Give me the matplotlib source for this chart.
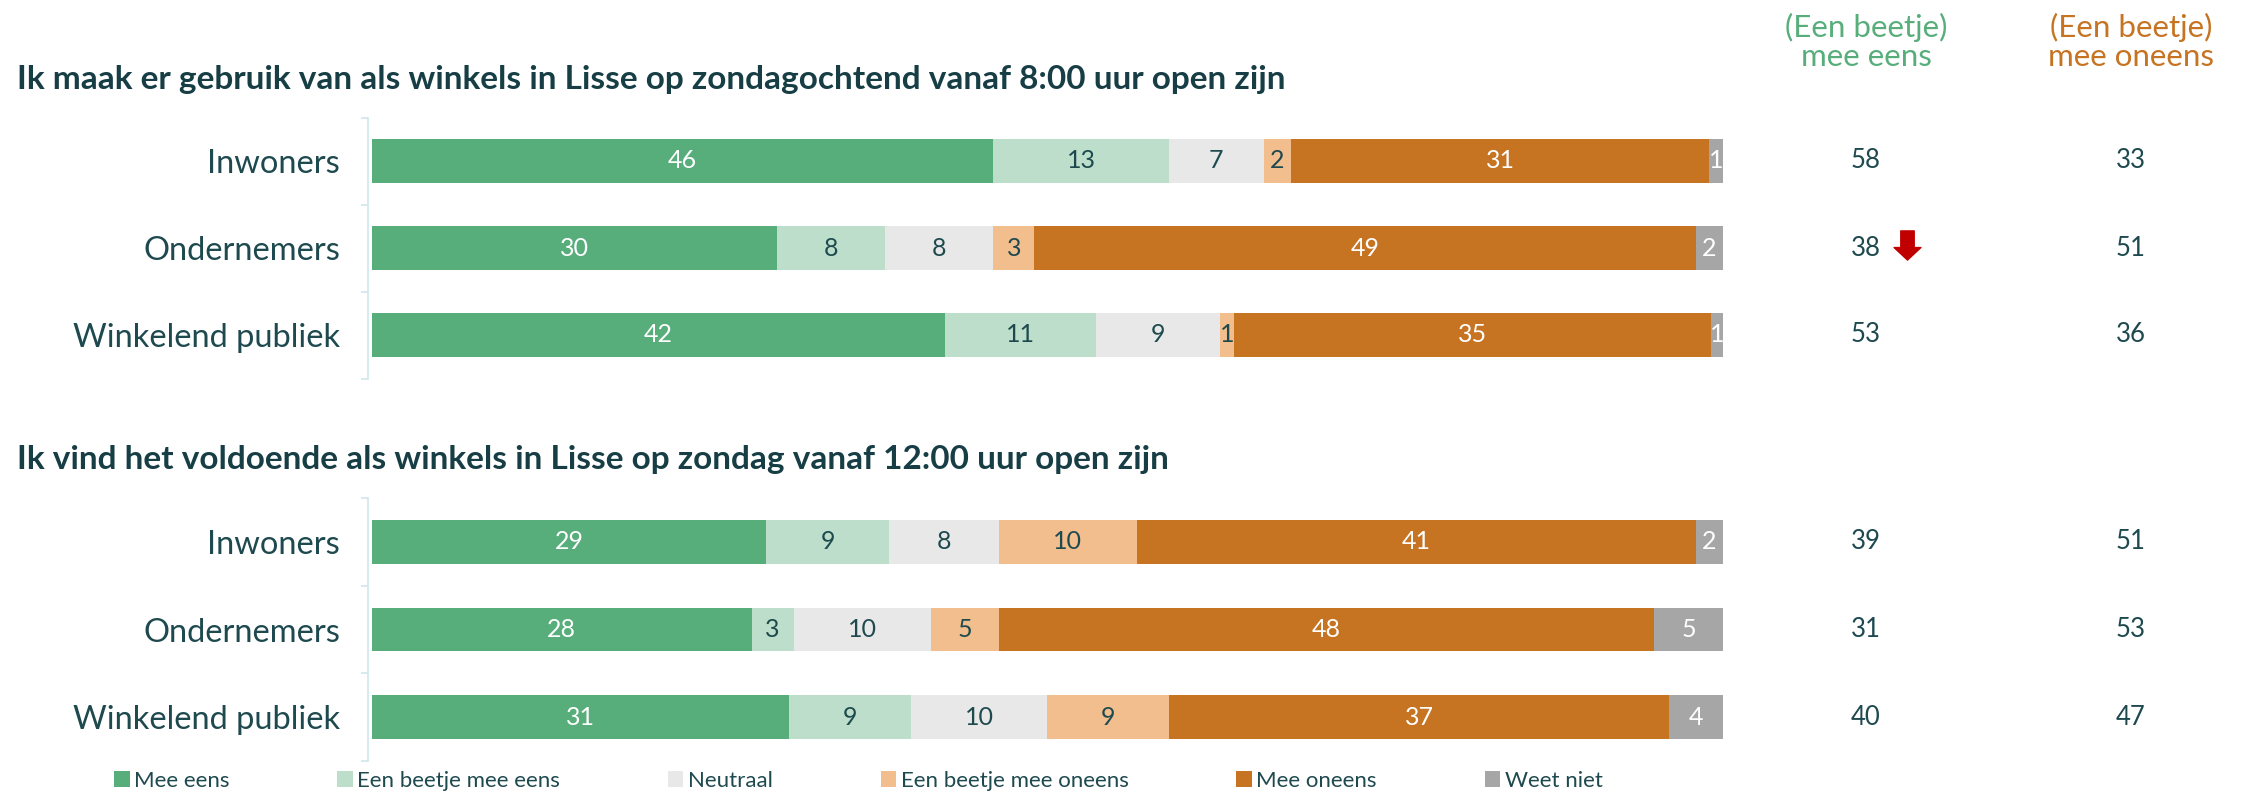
import matplotlib
matplotlib.use("Agg")
import matplotlib.pyplot as plt
from matplotlib.patches import Patch
from matplotlib.path import Path
from matplotlib.transforms import blended_transform_factory

# --- data ---
groups = ["Inwoners", "Ondernemers", "Winkelend publiek"]
answers = ["Mee eens", "Een beetje mee eens", "Neutraal",
           "Een beetje mee oneens", "Mee oneens", "Weet niet"]

title_1 = "Ik maak er gebruik van als winkels in Lisse op zondagochtend vanaf 8:00 uur open zijn"
title_2 = "Ik vind het voldoende als winkels in Lisse op zondag vanaf 12:00 uur open zijn"

# segment shares per answer (rows = groups)
q1_mee_eens = [46, 30, 42.4]
q1_beetje_eens = [13, 8, 11.2]
q1_neutraal = [7, 8, 9.2]
q1_beetje_oneens = [2, 3, 1.0]
q1_mee_oneens = [31, 49, 35.3]
q1_weet_niet = [1, 2, 0.9]

q2_mee_eens = [29.2, 28.1, 30.9]
q2_beetje_eens = [9.1, 3.1, 9.0]
q2_neutraal = [8.1, 10.2, 10.1]
q2_beetje_oneens = [10.2, 5.0, 9.0]
q2_mee_oneens = [41.4, 48.5, 37.0]
q2_weet_niet = [2.0, 5.1, 4.0]

# summary columns
q1_eens_total = [58, 38, 53]
q1_oneens_total = [33, 51, 36]
q2_eens_total = [39, 31, 40]
q2_oneens_total = [51, 53, 47]
q1_drop = [False, True, False]
q2_drop = [False, False, False]

colors = ["#57AE7B", "#BCDECB", "#E8E8E8", "#F2BE8D", "#C67322", "#A6A6A6"]
label_colors = ["white", "#1E4A4F", "#1E4A4F", "#1E4A4F", "white", "white"]
green = "#57AE7B"
orange = "#C67322"
dark = "#1E4A4F"
spine_col = "#CFE6EA"

plt.rcParams["font.family"] = ["Lato", "DejaVu Sans"]

W, H = 2247, 792
fig = plt.figure(figsize=(W / 100, H / 100), dpi=100)

# down-pointing arrow marker
arrow = Path([(-0.23, 0.5), (0.23, 0.5), (0.23, -0.07), (0.46, -0.07),
              (0.0, -0.5), (-0.46, -0.07), (-0.23, -0.07), (-0.23, 0.5)],
             [Path.MOVETO] + [Path.LINETO] * 6 + [Path.CLOSEPOLY])


def draw_block(rect, title, series, eens, oneens, drop):
    ax = fig.add_axes(rect)
    for s in ["top", "right", "bottom"]:
        ax.spines[s].set_visible(False)
    ax.spines["left"].set_position(("outward", 3))
    ax.spines["left"].set_color(spine_col)
    ax.spines["left"].set_linewidth(1.2)

    ypos = list(range(len(groups)))
    left = [0.0] * len(groups)
    for vals, col, tcol in zip(series, colors, label_colors):
        ax.barh(ypos, vals, left=left, height=0.5, color=col, edgecolor="none")
        for y, v, l in zip(ypos, vals, left):
            ax.text(l + v / 2, y, f"{v:.0f}", ha="center", va="center",
                    color=tcol, fontsize=18)
        left = [l + v for l, v in zip(left, vals)]

    ax.set_xlim(0, 100)
    ax.set_ylim(len(groups) - 0.5, -0.5)
    ax.set_yticks(ypos)
    ax.set_yticklabels(groups)
    ax.set_yticks([i - 0.5 for i in range(len(groups) + 1)], minor=True)
    ax.tick_params(axis="y", which="major", length=0, pad=20,
                   labelsize=23.5, labelcolor=dark)
    ax.tick_params(axis="y", which="minor", length=5, width=1.2, color=spine_col)
    ax.set_xticks([])

    tr = blended_transform_factory(fig.transFigure, ax.transData)
    # title above the block
    ax.text(17 / W, -0.94, title, transform=tr, fontsize=24, fontweight="bold",
            color="#173E45", ha="left", va="center")

    for y, a, b, d in zip(ypos, eens, oneens, drop):
        ax.text(1866 / W, y, str(a), transform=tr, ha="center", va="center",
                fontsize=18.5, color=dark)
        ax.text(2131 / W, y, str(b), transform=tr, ha="center", va="center",
                fontsize=18.5, color=dark)
        if d:
            ax.plot([1907 / W], [y - 0.04], marker=arrow, markersize=21,
                    color="#C00000", transform=tr, clip_on=False)
    return ax


ax1 = draw_block([372 / W, 1 - 378.5 / H, 1351 / W, 261 / H], title_1,
                 [q1_mee_eens, q1_beetje_eens, q1_neutraal, q1_beetje_oneens,
                  q1_mee_oneens, q1_weet_niet],
                 q1_eens_total, q1_oneens_total, q1_drop)
ax2 = draw_block([372 / W, 1 - 761 / H, 1351 / W, 263 / H], title_2,
                 [q2_mee_eens, q2_beetje_eens, q2_neutraal, q2_beetje_oneens,
                  q2_mee_oneens, q2_weet_niet],
                 q2_eens_total, q2_oneens_total, q2_drop)

# column headers
fig.text(1866 / W, 1 - 42 / H, "(Een beetje)\nmee eens", ha="center", va="center",
         color=green, fontsize=22.5, linespacing=1.05)
fig.text(2131 / W, 1 - 42 / H, "(Een beetje)\nmee oneens", ha="center", va="center",
         color=orange, fontsize=22.5, linespacing=1.05)

handles = [Patch(facecolor=c, edgecolor="none", label=a) for a, c in zip(answers, colors)]
fig.legend(handles=handles, loc="center left", bbox_to_anchor=(94 / W, 1 - 781 / H),
           ncol=6, frameon=False, handlelength=0.7, handleheight=0.7,
           handletextpad=0.2, columnspacing=4.85, labelcolor=dark,
           prop={"size": 16})

fig.savefig("out.png", dpi=100)
